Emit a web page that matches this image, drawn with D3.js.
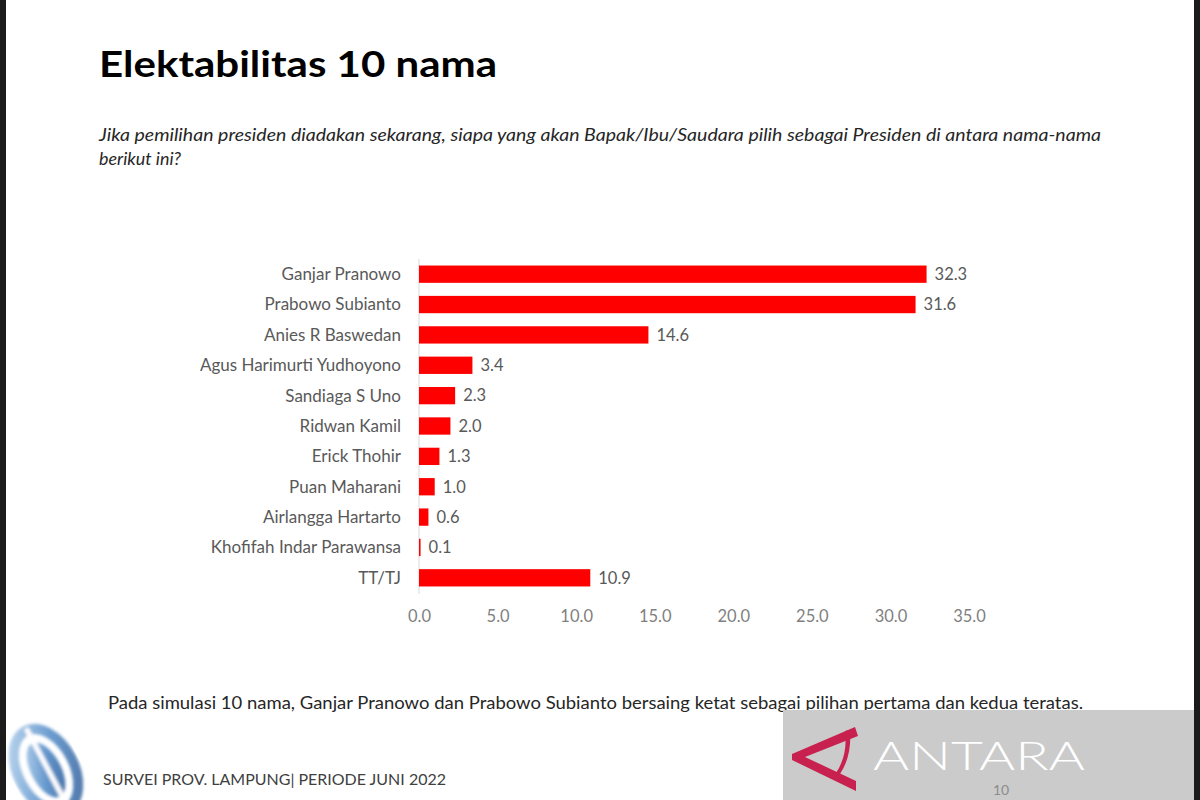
<!DOCTYPE html>
<html>
<head>
<meta charset="utf-8">
<script src="https://cdn.jsdelivr.net/npm/d3@7"></script>
<style>
  html, body { margin: 0; padding: 0; background: #ffffff; }
  svg { display: block; }
</style>
</head>
<body>
<script>
const categories = ["Ganjar Pranowo","Prabowo Subianto","Anies R Baswedan","Agus Harimurti Yudhoyono","Sandiaga S Uno","Ridwan Kamil","Erick Thohir","Puan Maharani","Airlangga Hartarto","Khofifah Indar Parawansa","TT/TJ"];
const values = [32.3, 31.6, 14.6, 3.4, 2.3, 2.0, 1.3, 1.0, 0.6, 0.1, 10.9];
const tickValues = [0, 5, 10, 15, 20, 25, 30, 35];
const titleText = "Elektabilitas 10 nama";
const subtitleLines = ["Jika pemilihan presiden diadakan sekarang, siapa yang akan Bapak/Ibu/Saudara pilih sebagai Presiden di antara nama-nama", "berikut ini?"];
const noteText = "Pada simulasi 10 nama, Ganjar Pranowo dan Prabowo Subianto bersaing ketat sebagai pilihan pertama dan kedua teratas.";
const footerText = "SURVEI PROV. LAMPUNG| PERIODE JUNI 2022";
const pageNumber = "10";

const W = 1200, H = 800;
const FONT = "Lato, 'Open Sans', sans-serif";
const svg = d3.select("body").append("svg").attr("width", W).attr("height", H);

svg.append("rect").attr("width", W).attr("height", H).attr("fill", "#ffffff");
svg.append("rect").attr("x", 0).attr("y", 0).attr("width", 6).attr("height", H).attr("fill", "#1b1b1b");
svg.append("rect").attr("x", 1194).attr("y", 0).attr("width", 6).attr("height", H).attr("fill", "#1b1b1b");

// title
svg.append("text").attr("x", 99).attr("y", 77)
  .attr("font-family", FONT).attr("font-weight", 700).attr("font-size", 37)
  .attr("fill", "#000").attr("textLength", 398).attr("lengthAdjust", "spacingAndGlyphs")
  .text(titleText);

// subtitle
svg.append("text").attr("x", 99).attr("y", 141)
  .attr("font-family", FONT).attr("font-style", "italic").attr("font-size", 17)
  .attr("fill", "#262626").attr("textLength", 1002).attr("lengthAdjust", "spacingAndGlyphs")
  .text(subtitleLines[0]);
svg.append("text").attr("x", 99).attr("y", 165)
  .attr("font-family", FONT).attr("font-style", "italic").attr("font-size", 17)
  .attr("fill", "#262626").attr("textLength", 82).attr("lengthAdjust", "spacingAndGlyphs")
  .text(subtitleLines[1]);

// chart
const x = d3.scaleLinear().domain([0, 35]).range([419, 969]);
const y = d3.scaleBand().domain(categories).range([259, 593]).paddingInner(0.43).paddingOuter(0.215);

svg.append("line").attr("x1", x(0)).attr("x2", x(0)).attr("y1", 259).attr("y2", 594)
  .attr("stroke", "#d9d9d9").attr("stroke-width", 1);

svg.append("g").selectAll("rect").data(categories).join("rect")
  .attr("x", x(0)).attr("y", d => y(d))
  .attr("width", (d, i) => x(values[i]) - x(0))
  .attr("height", y.bandwidth())
  .attr("fill", "#ff0000");

svg.append("g").selectAll("text").data(categories).join("text")
  .attr("x", 401).attr("y", d => y(d) + y.bandwidth() / 2)
  .attr("dy", "0.35em").attr("text-anchor", "end")
  .attr("font-family", FONT).attr("font-size", 17).attr("fill", "#595959")
  .text(d => d);

svg.append("g").selectAll("text").data(categories).join("text")
  .attr("x", (d, i) => x(values[i]) + 8).attr("y", d => y(d) + y.bandwidth() / 2)
  .attr("dy", "0.35em")
  .attr("font-family", FONT).attr("font-size", 16.5).attr("fill", "#595959")
  .text((d, i) => values[i].toFixed(1));

const xAxis = d3.axisBottom(x).tickValues(tickValues).tickFormat(d3.format(".1f")).tickSize(0).tickPadding(0);
const ax = svg.append("g").attr("transform", "translate(0,610)").call(xAxis);
ax.select(".domain").remove();
ax.selectAll("text").attr("font-family", FONT).attr("font-size", 16.5).attr("fill", "#7f7f7f");

// note
svg.append("text").attr("x", 108).attr("y", 709)
  .attr("font-family", FONT).attr("font-size", 16.5).attr("fill", "#262626")
  .attr("textLength", 975).attr("lengthAdjust", "spacingAndGlyphs")
  .text(noteText);

// footer
svg.append("text").attr("x", 103).attr("y", 785)
  .attr("font-family", FONT).attr("font-size", 15).attr("fill", "#404040")
  .attr("textLength", 343).attr("lengthAdjust", "spacingAndGlyphs")
  .text(footerText);

// logo bottom-left
const defs = svg.append("defs");
const lg = defs.append("linearGradient").attr("id", "lg").attr("x1", "0").attr("y1", "0").attr("x2", "1").attr("y2", "1");
lg.append("stop").attr("offset", "0").attr("stop-color", "#b5d3ef");
lg.append("stop").attr("offset", "0.5").attr("stop-color", "#4a86c5");
lg.append("stop").attr("offset", "1").attr("stop-color", "#1f4f8f");
const blur = defs.append("filter").attr("id", "blur");
blur.append("feGaussianBlur").attr("stdDeviation", 1.5);
const logo = svg.append("g").attr("transform", "translate(46,770) rotate(-28)").attr("filter", "url(#blur)");
logo.append("ellipse").attr("rx", 28).attr("ry", 44).attr("fill", "none").attr("stroke", "url(#lg)").attr("stroke-width", 10).attr("opacity", 0.8);
logo.append("ellipse").attr("rx", 15).attr("ry", 30).attr("fill", "url(#lg)").attr("opacity", 0.85);
logo.append("line").attr("x1", 2).attr("y1", -46).attr("x2", 2).attr("y2", 46).attr("stroke", "#ffffff").attr("stroke-width", 5);

// watermark box
svg.append("rect").attr("x", 783).attr("y", 710).attr("width", 411).attr("height", 90).attr("fill", "#cbcbcb");
svg.append("path")
  .attr("d", "M855,727 L858,736 L805,757 L856,781 L856,791 L792,760 L792,754 Z")
  .attr("fill", "#c8204f");
svg.append("path")
  .attr("d", "M845,731 Q848,755 836,773 L840,774 Q852,756 850,730 Z")
  .attr("fill", "#c8204f");
svg.append("text").attr("x", 873).attr("y", 770)
  .attr("font-family", FONT).attr("font-weight", 300).attr("font-size", 40).attr("fill", "#ffffff")
  .attr("textLength", 212).attr("lengthAdjust", "spacingAndGlyphs")
  .text("ANTARA");
svg.append("text").attr("x", 1001).attr("y", 795).attr("text-anchor", "middle")
  .attr("font-family", FONT).attr("font-size", 14).attr("fill", "#8c8c8c")
  .text(pageNumber);
</script>
</body>
</html>
